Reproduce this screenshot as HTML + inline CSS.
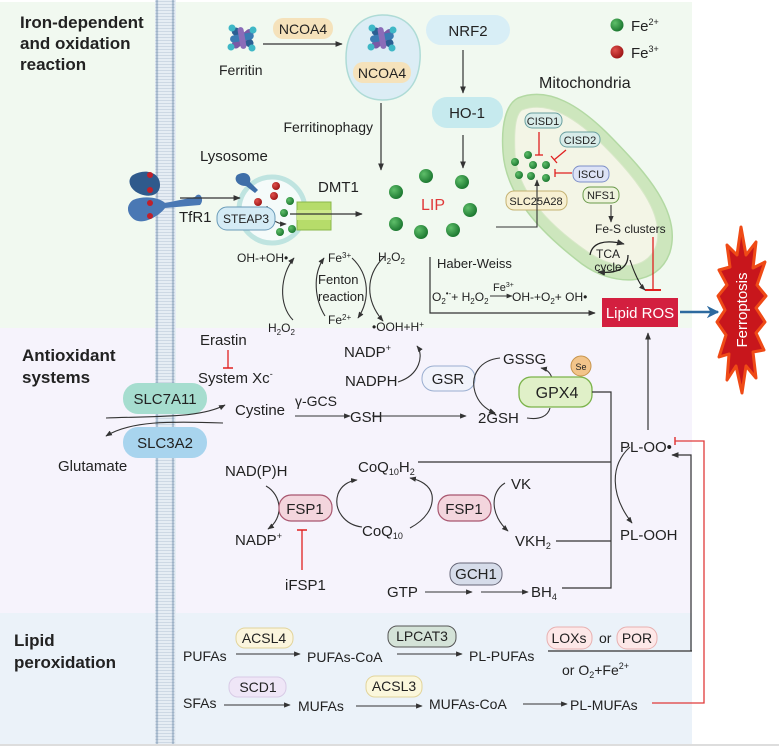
<!DOCTYPE html>
<html><head><meta charset="utf-8"><style>
html,body{margin:0;padding:0;background:#fff;}
svg{display:block;font-family:"Liberation Sans",Arial,sans-serif;}
text{fill:#222;}
</style></head><body>
<svg width="779" height="746" viewBox="0 0 779 746" xmlns="http://www.w3.org/2000/svg">
<defs>
<marker id="a" viewBox="0 0 10 10" refX="9" refY="5" markerWidth="6" markerHeight="6" orient="auto"><path d="M0,1 L10,5 L0,9 z" fill="#333"/></marker>
<marker id="ab" viewBox="0 0 10 10" refX="9" refY="5" markerWidth="5" markerHeight="5" orient="auto"><path d="M0,0 L10,5 L0,10 L3,5 z" fill="#2d6a9f"/></marker>
<pattern id="mem" width="22" height="3" patternUnits="userSpaceOnUse"><rect width="22" height="3" fill="#e6edf4"/><circle cx="3" cy="1.5" r="1.4" fill="#9fb3c8"/><circle cx="19" cy="1.5" r="1.4" fill="#9fb3c8"/><line x1="4" y1="1.5" x2="18" y2="1.5" stroke="#c7d3e0" stroke-width="0.8"/></pattern>
<g id="fer"><rect x="-13" y="-5" width="26" height="8" rx="4" fill="#2c5f93" transform="rotate(40)"/><rect x="-13" y="-3" width="26" height="8" rx="4" fill="#7a5aa6" transform="rotate(-40)"/><rect x="-12" y="-4" width="24" height="7" rx="3.5" fill="#3a7bb3" transform="rotate(-10)"/><rect x="-11" y="-3" width="22" height="6" rx="3" fill="#8b6cb8" transform="rotate(80)"/><circle cx="-10" cy="-10" r="3.5" fill="#3fb8c6"/><circle cx="11" cy="-8" r="3.5" fill="#3fb8c6"/><circle cx="-11" cy="9" r="3.5" fill="#3fb8c6"/><circle cx="10" cy="10" r="3.5" fill="#3fb8c6"/></g>
<radialGradient id="gg" cx="35%" cy="35%" r="65%"><stop offset="0" stop-color="#5fbf6a"/><stop offset="1" stop-color="#1e7a32"/></radialGradient>
<radialGradient id="rg" cx="35%" cy="35%" r="65%"><stop offset="0" stop-color="#e0504c"/><stop offset="1" stop-color="#a01818"/></radialGradient>
</defs>

<!-- panels -->
<rect x="0" y="2" width="692" height="326" fill="#f1f9f0"/>
<rect x="0" y="328" width="692" height="285" fill="#f6f3fc"/>
<rect x="0" y="613" width="692" height="131" fill="#ebf2f9"/>
<rect x="0" y="744" width="779" height="2" fill="#ddd"/>
<rect x="155" y="0" width="21" height="744" fill="url(#mem)"/>

<!-- section titles -->
<g font-weight="bold" font-size="17">
<text x="20" y="28">Iron-dependent</text><text x="20" y="49">and oxidation</text><text x="20" y="70">reaction</text>
<text x="22" y="361">Antioxidant</text><text x="22" y="383">systems</text>
<text x="14" y="646">Lipid</text><text x="14" y="668">peroxidation</text>
</g>

<g font-size="14">
<!-- ferritin -->
<use href="#fer" x="242" y="38"/>
<text x="219" y="75">Ferritin</text>
<rect x="273" y="18" width="60" height="21" rx="10" fill="#f5e2bb"/>
<text x="303" y="34" text-anchor="middle">NCOA4</text>
<line x1="263" y1="44" x2="342" y2="44" stroke="#333" stroke-width="1.2" marker-end="url(#a)"/>
<path d="M383,15 C405,15 422,30 420,60 C418,88 402,100 383,100 C362,100 346,86 346,58 C346,30 362,15 383,15 Z" fill="#dcedf5" stroke="#aedbd6" stroke-width="1.5"/>
<use href="#fer" x="382" y="38"/>
<rect x="353" y="62" width="58" height="21" rx="10" fill="#f5e2bb"/>
<text x="382" y="78" text-anchor="middle">NCOA4</text>
<line x1="381" y1="103" x2="381" y2="170" stroke="#333" stroke-width="1.2" marker-end="url(#a)"/>
<text x="373" y="132" text-anchor="end">Ferritinophagy</text>

<!-- NRF2 / HO-1 -->
<rect x="426" y="15" width="84" height="30" rx="15" fill="#d8eef6"/>
<text x="468" y="36" text-anchor="middle" font-size="15">NRF2</text>
<line x1="463" y1="50" x2="463" y2="93" stroke="#333" stroke-width="1.2" marker-end="url(#a)"/>
<rect x="432" y="97" width="71" height="31" rx="15" fill="#c6eaee"/>
<text x="467" y="118" text-anchor="middle" font-size="15">HO-1</text>
<line x1="463" y1="135" x2="463" y2="168" stroke="#333" stroke-width="1.2" marker-end="url(#a)"/>

<!-- legend -->
<circle cx="617" cy="25" r="6.5" fill="url(#gg)"/><text x="631" y="31" font-size="15">Fe<tspan font-size="9" dy="-6">2+</tspan></text>
<circle cx="617" cy="52" r="6.5" fill="url(#rg)"/><text x="631" y="58" font-size="15">Fe<tspan font-size="9" dy="-6">3+</tspan></text>

<!-- lysosome / TfR1 -->
<text x="200" y="161" font-size="15">Lysosome</text>
<circle cx="272" cy="210" r="33" fill="#f5fbfa" stroke="#bfe4e0" stroke-width="5"/>
<g fill="#3f6fa8">
<path d="M133,175 C145,168 160,172 160,185 C160,195 150,198 140,194 C130,190 126,180 133,175Z" fill="#2f5a8c"/>
<path d="M133,200 C145,195 160,198 165,203 L195,197 C200,190 205,200 200,205 L165,208 C160,215 145,225 135,220 C126,214 126,205 133,200Z" fill="#4a78b4"/>
<path d="M237,175 C245,170 252,175 250,182 L258,190 L255,193 L246,186 C238,186 233,180 237,175Z"/>
</g>
<circle cx="150" cy="175" r="3" fill="#c0202a"/><circle cx="150" cy="190" r="3" fill="#c0202a"/><circle cx="150" cy="203" r="3" fill="#c0202a"/><circle cx="150" cy="216" r="3" fill="#c0202a"/>
<line x1="180" y1="198" x2="240" y2="198" stroke="#333" stroke-width="1.2" marker-end="url(#a)"/>
<text x="179" y="222" font-size="15">TfR1</text>
<circle cx="258" cy="202" r="4" fill="url(#rg)"/><circle cx="276" cy="186" r="4" fill="url(#rg)"/><circle cx="274" cy="196" r="4" fill="url(#rg)"/>
<circle cx="290" cy="201" r="4" fill="url(#gg)"/><circle cx="284" cy="213" r="4" fill="url(#gg)"/><circle cx="280" cy="232" r="4" fill="url(#gg)"/><circle cx="292" cy="229" r="4" fill="url(#gg)"/>
<path d="M267,206 C268,218 275,224 286,224" fill="none" stroke="#333" stroke-width="1.1" marker-end="url(#a)"/>
<rect x="217" y="207" width="58" height="23" rx="10" fill="#d4ebf5" stroke="#6a9bb8"/>
<text x="246" y="223" text-anchor="middle" font-size="12">STEAP3</text>
<rect x="297" y="202" width="34" height="28" fill="#b6dc6a" stroke="#8ab84a"/>
<rect x="297" y="210" width="34" height="10" fill="#cde88a"/>
<line x1="290" y1="214" x2="362" y2="214" stroke="#333" stroke-width="1.2" marker-end="url(#a)"/>
<text x="318" y="192" font-size="15">DMT1</text>

<!-- LIP -->
<g fill="url(#gg)">
<circle cx="426" cy="176" r="7"/><circle cx="462" cy="182" r="7"/><circle cx="396" cy="192" r="7"/><circle cx="470" cy="210" r="7"/><circle cx="396" cy="224" r="7"/><circle cx="421" cy="232" r="7"/><circle cx="453" cy="230" r="7"/>
</g>
<text x="421" y="210" font-size="16" style="fill:#e03a3a">LIP</text>

<!-- mitochondria -->
<text x="539" y="88" font-size="16">Mitochondria</text>
<path d="M518,98 C548,86 580,105 612,138 C645,172 682,212 670,252 C658,288 612,286 582,264 C548,238 506,200 503,152 C501,125 506,104 518,98Z" fill="#cde6bd" stroke="#b3d9a3" stroke-width="1.5"/>
<path d="M522,110 C548,100 576,118 604,146 C634,176 666,214 656,246 C646,272 614,270 588,252 C556,230 518,196 515,154 C514,132 515,115 522,110Z" fill="#f3f5e6" stroke="#d8e8c8"/>
<g fill="url(#gg)"><circle cx="515" cy="162" r="4"/><circle cx="528" cy="155" r="4"/><circle cx="533" cy="165" r="4"/><circle cx="546" cy="165" r="4"/><circle cx="519" cy="175" r="4"/><circle cx="546" cy="178" r="4"/><circle cx="531" cy="176" r="4"/></g>
<g font-size="11">
<rect x="525" y="113" width="37" height="15" rx="7" fill="#d8ece9" stroke="#6aa0a0"/><text x="543" y="125" text-anchor="middle">CISD1</text>
<rect x="560" y="132" width="40" height="15" rx="7" fill="#d8ece9" stroke="#6aa0a0"/><text x="580" y="144" text-anchor="middle">CISD2</text>
<rect x="573" y="166" width="36" height="16" rx="7" fill="#dde3f6" stroke="#7d8fc8"/><text x="591" y="178" text-anchor="middle">ISCU</text>
<rect x="583" y="187" width="36" height="16" rx="7" fill="#eef3dc" stroke="#6a9a4a"/><text x="601" y="199" text-anchor="middle">NFS1</text>
<rect x="506" y="191" width="61" height="19" rx="8" fill="#f7f0d2" stroke="#c5b272"/><text x="536" y="205" text-anchor="middle">SLC25A28</text>
<text x="595" y="233" font-size="12">Fe-S clusters</text>
<text x="608" y="258" text-anchor="middle" font-size="12">TCA</text><text x="608" y="271" text-anchor="middle" font-size="12">cycle</text>
</g>
<g stroke="#e02020" stroke-width="1.3" fill="none">
<line x1="539" y1="132" x2="539" y2="155"/><line x1="535" y1="155" x2="543" y2="155"/>
<line x1="566" y1="150" x2="554" y2="160"/><line x1="551" y1="156" x2="557" y2="163"/>
<line x1="572" y1="173" x2="555" y2="173"/><line x1="555" y1="169" x2="555" y2="177"/>
<line x1="653" y1="237" x2="653" y2="290"/><line x1="645" y1="290" x2="661" y2="290" stroke-width="2"/>
</g>
<line x1="611" y1="205" x2="611" y2="222" stroke="#333" stroke-width="1.1" marker-end="url(#a)"/>
<path d="M496,227 L537,227 L537,180" fill="none" stroke="#333" stroke-width="1.1" marker-end="url(#a)"/>
<path d="M590,255 C592,243 604,239 624,244" fill="none" stroke="#222" stroke-width="1.3" marker-end="url(#a)"/>
<path d="M628,255 C628,268 618,274 598,272" fill="none" stroke="#222" stroke-width="1.3" marker-end="url(#a)"/>
<path d="M630,260 C635,275 640,285 645,290" fill="none" stroke="#222" stroke-width="1.1" marker-end="url(#a)"/>

<!-- Haber-Weiss -->
<path d="M430,257 L430,313 L595,313" fill="none" stroke="#333" stroke-width="1.2" marker-end="url(#a)"/>
<text x="437" y="268" font-size="13">Haber-Weiss</text>
<text x="432" y="301" font-size="12">O<tspan font-size="8" dy="3">2</tspan><tspan font-size="8" dy="-8">•-</tspan><tspan dy="5">+ H</tspan><tspan font-size="8" dy="3">2</tspan><tspan dy="-3">O</tspan><tspan font-size="8" dy="3">2</tspan></text>
<line x1="490" y1="296" x2="512" y2="296" stroke="#333" stroke-width="1" marker-end="url(#a)"/>
<text x="493" y="291" font-size="11">Fe<tspan font-size="7" dy="-4">3+</tspan></text>
<text x="512" y="301" font-size="12">OH-+O<tspan font-size="8" dy="3">2</tspan><tspan dy="-3">+  OH•</tspan></text>

<!-- Lipid ROS -->
<rect x="602" y="298" width="76" height="29" fill="#d31f3f"/>
<text x="640" y="318" text-anchor="middle" font-size="15" style="fill:#fff">Lipid ROS</text>
<line x1="680" y1="312" x2="718" y2="312" stroke="#2d6a9f" stroke-width="2.5" marker-end="url(#ab)"/>
<path d="M741,227 L746,255 L756,242 L753,268 L765,262 L757,285 L766,296 L756,308 L765,322 L756,333 L764,350 L753,352 L756,378 L746,366 L742,393 L736,366 L727,380 L729,354 L719,357 L726,335 L717,322 L725,310 L718,296 L727,285 L719,270 L730,267 L727,245 L737,255 Z" fill="#c8161c" stroke="#ef4a16" stroke-width="3" stroke-linejoin="round"/>
<text transform="translate(747,310) rotate(-90)" text-anchor="middle" font-size="15" style="fill:#fff">Ferroptosis</text>

<!-- Fenton -->
<g font-size="12">
<text x="237" y="262">OH-+OH•</text>
<text x="328" y="262">Fe<tspan font-size="8" dy="-4">3+</tspan></text>
<text x="378" y="261">H<tspan font-size="8" dy="3">2</tspan><tspan dy="-3">O</tspan><tspan font-size="8" dy="3">2</tspan></text>
<text x="318" y="284" font-size="13">Fenton</text><text x="318" y="301" font-size="13">reaction</text>
<text x="268" y="332">H<tspan font-size="8" dy="3">2</tspan><tspan dy="-3">O</tspan><tspan font-size="8" dy="3">2</tspan></text>
<text x="328" y="324">Fe<tspan font-size="8" dy="-4">2+</tspan></text>
<text x="372" y="331">•OOH+H<tspan font-size="8" dy="-4">+</tspan></text>
</g>
<g fill="none" stroke="#333" stroke-width="1.1">
<path d="M293,320 C278,305 280,275 294,258" marker-end="url(#a)"/>
<path d="M325,316 C315,300 312,275 324,258" marker-end="url(#a)"/>
<path d="M352,258 C370,275 370,300 358,318" marker-end="url(#a)"/>
<path d="M385,256 C365,275 365,300 383,321" marker-end="url(#a)"/>
</g>

<!-- Antioxidant -->
<text x="200" y="345" font-size="15">Erastin</text>
<line x1="228" y1="350" x2="228" y2="368" stroke="#e02020" stroke-width="1.3"/><line x1="223" y1="368" x2="233" y2="368" stroke="#e02020" stroke-width="1.5"/>
<text x="198" y="383" font-size="15">System Xc<tspan font-size="9" dy="-6">-</tspan></text>
<rect x="123" y="383" width="84" height="31" rx="15" fill="#a6ddcf"/>
<text x="165" y="404" text-anchor="middle" font-size="15">SLC7A11</text>
<rect x="123" y="427" width="84" height="31" rx="15" fill="#a8d4ee"/>
<text x="165" y="448" text-anchor="middle" font-size="15">SLC3A2</text>
<path d="M106,418 C160,416 200,418 225,405" fill="none" stroke="#333" stroke-width="1.1" marker-end="url(#a)"/>
<path d="M223,423 C170,421 130,421 106,436" fill="none" stroke="#333" stroke-width="1.1" marker-end="url(#a)"/>
<text x="58" y="471" font-size="15">Glutamate</text>
<text x="235" y="415" font-size="15">Cystine</text>
<text x="295" y="406" font-size="14">γ-GCS</text>
<line x1="295" y1="416" x2="350" y2="416" stroke="#333" stroke-width="1.1" marker-end="url(#a)"/>
<text x="350" y="422" font-size="15">GSH</text>
<line x1="372" y1="416" x2="466" y2="416" stroke="#333" stroke-width="1.1" marker-end="url(#a)"/>

<text x="344" y="357" font-size="15">NADP<tspan font-size="9" dy="-6">+</tspan></text>
<text x="345" y="386" font-size="15">NADPH</text>
<path d="M398,382 C420,375 424,355 417,346" fill="none" stroke="#333" stroke-width="1.1" marker-end="url(#a)"/>
<rect x="422" y="366" width="53" height="25" rx="12" fill="#f1f3fb" stroke="#9aaed0"/>
<text x="448" y="384" text-anchor="middle" font-size="15">GSR</text>
<path d="M500,358 C480,360 470,375 475,392 C478,402 485,409 495,413" fill="none" stroke="#333" stroke-width="1.1" marker-end="url(#a)"/>
<text x="503" y="364" font-size="15">GSSG</text>
<text x="478" y="423" font-size="15">2GSH</text>
<path d="M527,418 C540,420 548,416 550,408" fill="none" stroke="#333" stroke-width="1.1"/>
<path d="M552,378 C550,372 546,369 541,368" fill="none" stroke="#333" stroke-width="1.1" marker-end="url(#a)"/>
<rect x="519" y="377" width="73" height="30" rx="12" fill="#e0f0c8" stroke="#7bb34a" stroke-width="1.3"/>
<text x="557" y="398" text-anchor="middle" font-size="16">GPX4</text>
<circle cx="581" cy="366" r="10" fill="#f2c48a" stroke="#c7944c"/>
<text x="581" y="370" text-anchor="middle" font-size="9">Se</text>
<path d="M592,392 L611,392 L611,588 L562,588" fill="none" stroke="#333" stroke-width="1.2"/>
<line x1="418" y1="462" x2="611" y2="462" stroke="#333" stroke-width="1.2"/>
<line x1="556" y1="541" x2="611" y2="541" stroke="#333" stroke-width="1.2"/>

<text x="620" y="452" font-size="15">PL-OO•</text>
<line x1="648" y1="430" x2="648" y2="333" stroke="#333" stroke-width="1.2" marker-end="url(#a)"/>
<path d="M630,447 C610,465 610,495 632,523" fill="none" stroke="#333" stroke-width="1.1" marker-end="url(#a)"/>
<text x="620" y="540" font-size="15">PL-OOH</text>
<path d="M691,651 L691,455 L672,455" fill="none" stroke="#333" stroke-width="1.2" marker-end="url(#a)"/>
<path d="M652,703 L704,703 L704,441 L675,441" fill="none" stroke="#e03a3a" stroke-width="1.3"/>
<line x1="675" y1="437" x2="675" y2="445" stroke="#e03a3a" stroke-width="1.5"/>

<text x="225" y="476" font-size="15">NAD(P)H</text>
<text x="235" y="545" font-size="15">NADP<tspan font-size="9" dy="-6">+</tspan></text>
<path d="M266,486 C282,495 284,518 268,529" fill="none" stroke="#333" stroke-width="1.1" marker-end="url(#a)"/>
<rect x="279" y="495" width="53" height="26" rx="12" fill="#f3d5dd" stroke="#a8566f" stroke-width="1.2"/>
<text x="305" y="514" text-anchor="middle" font-size="15">FSP1</text>
<path d="M362,527 C345,525 333,510 338,494 C341,486 348,481 357,480" fill="none" stroke="#333" stroke-width="1.1" marker-end="url(#a)"/>
<text x="358" y="472" font-size="15">CoQ<tspan font-size="9" dy="3">10</tspan><tspan dy="-3">H</tspan><tspan font-size="9" dy="3">2</tspan></text>
<text x="362" y="536" font-size="15">CoQ<tspan font-size="9" dy="3">10</tspan></text>
<line x1="302" y1="530" x2="302" y2="570" stroke="#e02020" stroke-width="1.3"/><line x1="297" y1="530" x2="307" y2="530" stroke="#e02020" stroke-width="1.5"/>
<text x="285" y="590" font-size="15">iFSP1</text>

<path d="M410,528 C425,520 434,508 432,495 C430,485 420,480 410,478" fill="none" stroke="#333" stroke-width="1.1" marker-end="url(#a)"/>
<rect x="438" y="495" width="53" height="26" rx="12" fill="#f3d5dd" stroke="#a8566f" stroke-width="1.2"/>
<text x="464" y="514" text-anchor="middle" font-size="15">FSP1</text>
<path d="M505,483 C490,492 490,515 508,531" fill="none" stroke="#333" stroke-width="1.1" marker-end="url(#a)"/>
<text x="511" y="489" font-size="15">VK</text>
<text x="515" y="546" font-size="15">VKH<tspan font-size="9" dy="3">2</tspan></text>

<rect x="450" y="563" width="52" height="22" rx="10" fill="#d6dcea" stroke="#667"/>
<text x="476" y="579" text-anchor="middle" font-size="15">GCH1</text>
<text x="387" y="597" font-size="15">GTP</text>
<line x1="425" y1="592" x2="472" y2="592" stroke="#333" stroke-width="1.1" marker-end="url(#a)"/>
<line x1="481" y1="592" x2="528" y2="592" stroke="#333" stroke-width="1.1" marker-end="url(#a)"/>
<text x="531" y="597" font-size="15">BH<tspan font-size="9" dy="3">4</tspan></text>

<!-- Lipid peroxidation -->
<rect x="236" y="628" width="57" height="20" rx="9" fill="#fbf5dd" stroke="#e2d49a"/><text x="264" y="643" text-anchor="middle" font-size="14">ACSL4</text>
<text x="183" y="661" font-size="14">PUFAs</text>
<line x1="236" y1="654" x2="300" y2="654" stroke="#333" stroke-width="1.1" marker-end="url(#a)"/>
<text x="307" y="662" font-size="14">PUFAs-CoA</text>
<rect x="388" y="626" width="68" height="21" rx="9" fill="#d4e3d8" stroke="#555"/><text x="422" y="641" text-anchor="middle" font-size="14">LPCAT3</text>
<line x1="397" y1="654" x2="462" y2="654" stroke="#333" stroke-width="1.1" marker-end="url(#a)"/>
<text x="469" y="661" font-size="14">PL-PUFAs</text>
<rect x="547" y="627" width="45" height="22" rx="10" fill="#fde8e8" stroke="#e8b0b0"/><text x="569" y="643" text-anchor="middle" font-size="14">LOXs</text>
<text x="599" y="643" font-size="14">or</text>
<rect x="617" y="627" width="40" height="22" rx="10" fill="#fde8e8" stroke="#e8b0b0"/><text x="637" y="643" text-anchor="middle" font-size="14">POR</text>
<line x1="548" y1="651" x2="692" y2="651" stroke="#333" stroke-width="1.2"/>
<text x="562" y="675" font-size="14">or O<tspan font-size="9" dy="3">2</tspan><tspan dy="-3">+Fe</tspan><tspan font-size="9" dy="-6">2+</tspan></text>
<rect x="229" y="677" width="57" height="20" rx="9" fill="#efe6f7" stroke="#d8cbe6"/><text x="258" y="692" text-anchor="middle" font-size="14">SCD1</text>
<text x="183" y="708" font-size="14">SFAs</text>
<line x1="224" y1="705" x2="290" y2="705" stroke="#333" stroke-width="1.1" marker-end="url(#a)"/>
<text x="298" y="711" font-size="14">MUFAs</text>
<rect x="366" y="676" width="56" height="21" rx="9" fill="#fbf7dc" stroke="#e2d49a"/><text x="394" y="691" text-anchor="middle" font-size="14">ACSL3</text>
<line x1="356" y1="706" x2="422" y2="706" stroke="#333" stroke-width="1.1" marker-end="url(#a)"/>
<text x="429" y="709" font-size="14">MUFAs-CoA</text>
<line x1="523" y1="704" x2="567" y2="704" stroke="#333" stroke-width="1.1" marker-end="url(#a)"/>
<text x="570" y="710" font-size="14">PL-MUFAs</text>
</g>
</svg>
</body></html>
